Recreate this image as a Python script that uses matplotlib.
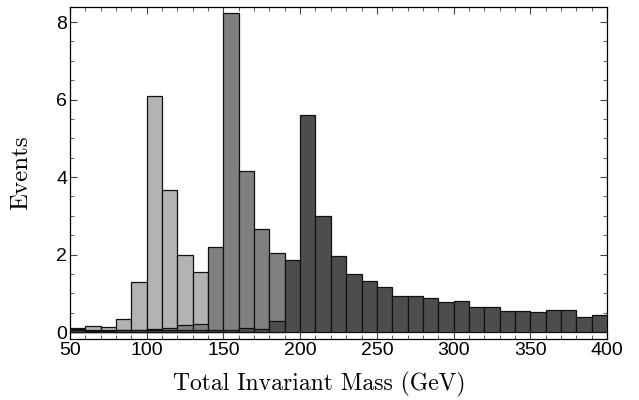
import numpy as np
import matplotlib
matplotlib.use("Agg")
from matplotlib import pyplot as plt
from matplotlib.ticker import MultipleLocator

# bin edges: 50..400 in steps of 10 GeV
edges = np.arange(50, 401, 10)

# three overlaid histograms (light, medium, dark), one value per bin
light = [0.10, 0.15, 0.12, 0.34, 1.28, 6.09, 3.66, 2.00, 1.54, 0, 0, 0, 0, 0, 0,
         0, 0, 0, 0, 0, 0, 0, 0, 0, 0, 0, 0, 0, 0, 0, 0, 0, 0, 0, 0]
medium = [0.07, 0.05, 0.06, 0.05, 0.06, 0.08, 0.11, 0.17, 0.20, 2.19, 8.23, 4.16, 2.65, 2.03, 0,
          0, 0, 0, 0, 0, 0, 0, 0, 0, 0, 0, 0, 0, 0, 0, 0, 0, 0, 0, 0]
dark = [0.04, 0.03, 0.03, 0.04, 0.05, 0.05, 0.05, 0.06, 0.06, 0.05, 0.05, 0.10, 0.07, 0.28, 1.85,
        5.61, 2.99, 1.97, 1.51, 1.33, 1.15, 0.94, 0.93, 0.89, 0.78, 0.81, 0.65, 0.65, 0.55, 0.54,
        0.52, 0.56, 0.57, 0.40, 0.43]

fig = plt.figure(figsize=(6.39, 4.0), dpi=100)
ax = fig.add_axes([0.1095, 0.1525, 0.8405, 0.83])

left = edges[:-1]
for vals, col, z in [(light, '#b3b3b3', 2), (medium, '#808080', 3), (dark, '#4d4d4d', 4)]:
    vals = np.array(vals)
    m = vals > 0
    ax.bar(left[m], vals[m], width=10, align='edge', color=col,
           edgecolor='#111111', linewidth=0.9, zorder=z)

ax.set_xlim(50, 400)
ax.set_ylim(-0.18, 8.39)
ax.xaxis.set_major_locator(MultipleLocator(50))
ax.xaxis.set_minor_locator(MultipleLocator(10))
ax.yaxis.set_major_locator(MultipleLocator(2))
ax.yaxis.set_minor_locator(MultipleLocator(0.5))
ax.tick_params(which='both', direction='in', top=True, right=True, color='#444444')
ax.tick_params(which='major', length=5, width=0.8, labelsize=14, pad=2)
ax.tick_params(which='minor', length=3, width=0.6)
for lab in ax.get_xticklabels() + ax.get_yticklabels():
    lab.set_fontfamily('Liberation Sans')
for s in ax.spines.values():
    s.set_linewidth(0.9)

ax.set_xlabel('Total Invariant Mass (GeV)', fontfamily='cmr10', fontsize=17, labelpad=9)
ax.xaxis.set_label_coords(0.465, -0.1, transform=ax.transAxes)
ax.set_ylabel('Events', fontfamily='cmr10', fontsize=18, labelpad=17)

fig.savefig('out.png', dpi=100)
